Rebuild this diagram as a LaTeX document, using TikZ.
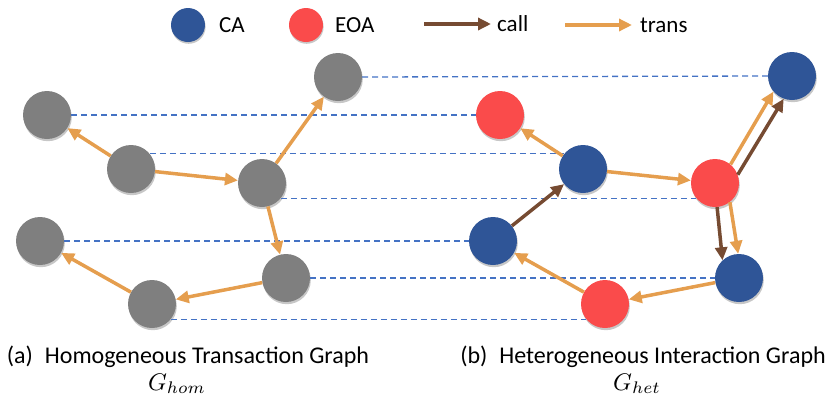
\documentclass[tikz,border=0pt]{standalone}
\usepackage{fontspec}
\usepackage{graphicx}
\setmainfont{Carlito}
\usetikzlibrary{arrows.meta,shadows}
\definecolor{caBlue}{RGB}{47,85,151}
\definecolor{eoaRed}{RGB}{250,75,75}
\definecolor{nodeGray}{RGB}{127,127,127}
\definecolor{transOrange}{RGB}{229,158,78}
\definecolor{callBrown}{RGB}{118,75,50}
\definecolor{dashBlue}{RGB}{68,114,196}
\begin{document}
\begin{tikzpicture}[x=1pt,y=-1pt,
  vert/.style={circle, minimum size=48pt, inner sep=0pt,
    drop shadow={opacity=0.22, shadow xshift=0.8pt, shadow yshift=-2.2pt, fill=black}},
  gnode/.style={vert, fill=nodeGray},
  canode/.style={vert, fill=caBlue},
  eoanode/.style={vert, fill=eoaRed},
  lgdot/.style={circle, minimum size=34pt, inner sep=0pt,
    drop shadow={opacity=0.22, shadow xshift=0.6pt, shadow yshift=-1.8pt, fill=black}},
  trans/.style={draw=transOrange, line width=3.5pt, -{Triangle[length=13pt,width=12pt]}},
  callarr/.style={draw=callBrown, line width=3.5pt, -{Triangle[length=13pt,width=12pt]}},
  link/.style={draw=dashBlue, line width=1.3pt, dash pattern=on 6pt off 4pt},
  lbl/.style={font=\fontsize{23}{26}\selectfont, anchor=west, inner sep=0pt},
  captext/.style={font=\fontsize{24}{28}\selectfont, inner sep=0pt, anchor=base},
  gname/.style={inner sep=0pt, anchor=base}
]
\useasboundingbox (0,0) rectangle (831,400);

% legend
\node[lgdot, fill=caBlue] (lgCA) at (188,25) {};
\node[lbl] (lgCAt) at (219,25) {CA};
\node[lgdot, fill=eoaRed] (lgEOA) at (306,25) {};
\node[lbl] (lgEOAt) at (335,25) {EOA};
\coordinate (lgc1) at (424,24);
\coordinate (lgc2) at (491,24);
\draw[callarr] (lgc1) -- (lgc2);
\node[lbl] (lgcallt) at (497,24) {call};
\coordinate (lgt1) at (565,25);
\coordinate (lgt2) at (632,25);
\draw[trans] (lgt1) -- (lgt2);
\node[lbl] (lgtranst) at (640,25) {trans};

% homogeneous graph
\node[gnode] (L1) at (47,115) {};
\node[gnode] (L2) at (131,169) {};
\node[gnode] (L3) at (262,183) {};
\node[gnode] (L4) at (338,77) {};
\node[gnode] (L5) at (40,241) {};
\node[gnode] (L6) at (286,278) {};
\node[gnode] (L7) at (152,304) {};

% heterogeneous graph
\node[eoanode] (R1) at (500,115) {};
\node[canode] (R2) at (583,169) {};
\node[eoanode] (R3) at (715,183) {};
\node[canode] (R4) at (792,76) {};
\node[canode] (R5) at (493,241) {};
\node[canode] (R6) at (739,278) {};
\node[eoanode] (R7) at (605,304) {};

% correspondence lines
\draw[link] (L4.east) -- (R4.west);
\draw[link] (L1.east) -- (R1.west);
\draw[link] (L2.39) -- (R2.141);
\draw[link] (L3.-39) -- (R3.-141);
\draw[link] (L5.east) -- (R5.west);
\draw[link] (L6.east) -- (R6.west);
\draw[link] (L7.-39) -- (R7.-141);

% homogeneous edges
\draw[trans] (L2) -- (L1);
\draw[trans] (L2) -- (L3);
\draw[trans] (L3) -- (L4);
\draw[trans] (L3) -- (L6);
\draw[trans] (L6) -- (L7);
\draw[trans] (L7) -- (L5);

% heterogeneous edges
\draw[trans] (R2) -- (R1);
\draw[trans] (R2) -- (R3);
\draw[callarr] (R5) -- (R2);
\draw[trans] (R3.50) -- (R4.220);
\draw[callarr] (R3.20) -- (R4.250);
\draw[callarr] (R3.-85) -- (R6.133);
\draw[trans] (R3.-52) -- (R6.92);
\draw[trans] (R6) -- (R7);
\draw[trans] (R7) -- (R5);

% captions
\node[captext] (capA) at (188,363) {(a)\hspace{0.5em}Homogeneous Transaction Graph};
\node[captext] (capB) at (643,363) {(b)\hspace{0.5em}Heterogeneous Interaction Graph};
\node[gname] (gA) at (177,390) {\scalebox{2.4}{$G_{hom}$}};
\node[gname] (gB) at (637,390) {\scalebox{2.4}{$G_{het}$}};
\end{tikzpicture}
\end{document}
